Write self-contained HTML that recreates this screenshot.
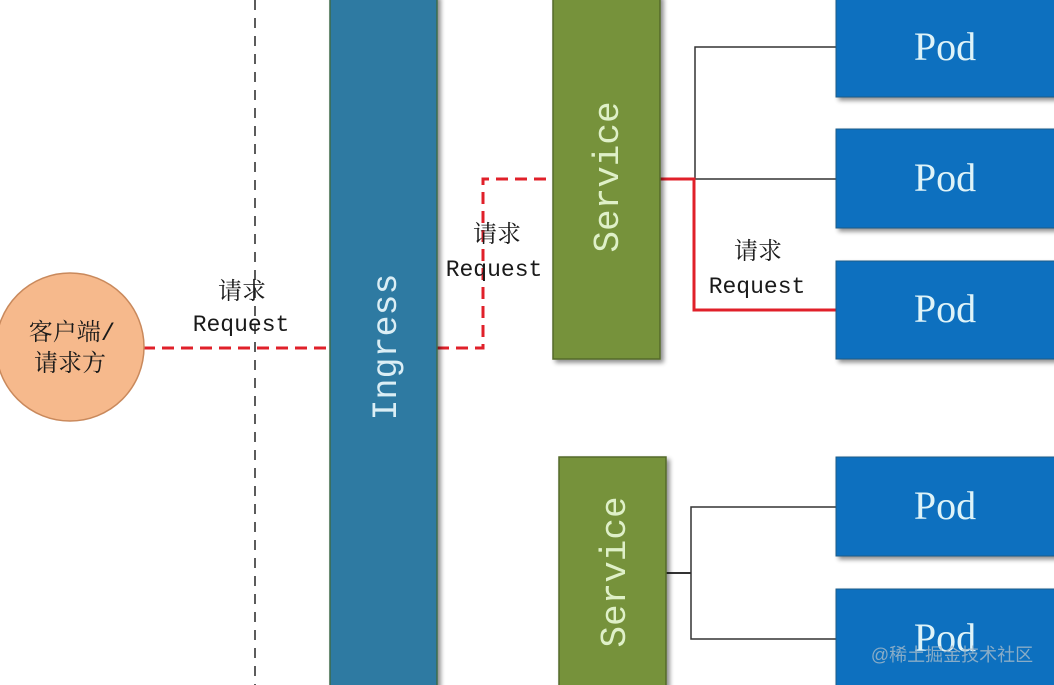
<!DOCTYPE html>
<html><head><meta charset="utf-8">
<style>
html,body{margin:0;padding:0;background:#fff;}
svg{display:block;}
.mono{font-family:"Liberation Mono","Noto Sans CJK SC",monospace;}
.lbl{font-family:"Liberation Mono","Noto Serif CJK SC","Noto Sans CJK SC",monospace;fill:#1a1a1a;}
</style></head>
<body>
<svg width="1054" height="685" viewBox="0 0 1054 685" xmlns="http://www.w3.org/2000/svg">
<defs>
<filter id="sh" x="-10%" y="-10%" width="130%" height="130%">
<feGaussianBlur in="SourceAlpha" stdDeviation="2.5"/>
<feOffset dx="3" dy="3" result="b"/>
<feComponentTransfer><feFuncA type="linear" slope="0.45"/></feComponentTransfer>
<feMerge><feMergeNode/><feMergeNode in="SourceGraphic"/></feMerge>
</filter>
</defs>
<rect width="1054" height="685" fill="#fff"/>

<!-- vertical black dashed line -->
<line x1="255" y1="0" x2="255" y2="685" stroke="#333" stroke-width="1.6" stroke-dasharray="10,8"/>

<!-- black connectors -->
<polyline points="836,47 695,47 695,179 836,179" fill="none" stroke="#333" stroke-width="1.5"/>
<polyline points="666,573 691,573" fill="none" stroke="#333" stroke-width="2"/>
<polyline points="836,507 691,507 691,639 836,639" fill="none" stroke="#333" stroke-width="1.5"/>

<!-- red connectors -->
<line x1="143" y1="348" x2="330" y2="348" stroke="#e0202a" stroke-width="3" stroke-dasharray="12,7"/>
<polyline points="437,348 483,348 483,179 553,179" fill="none" stroke="#e0202a" stroke-width="3" stroke-dasharray="12,7"/>
<polyline points="660,179 694,179 694,310 836,310" fill="none" stroke="#e0202a" stroke-width="3"/>

<!-- circle -->
<circle cx="70" cy="347" r="74" fill="#f6b98c" stroke="#c9895c" stroke-width="1.5"/>
<text x="72" y="340" text-anchor="middle" font-size="24" class="lbl">客户端/</text>
<text x="70" y="371" text-anchor="middle" font-size="24" class="lbl">请求方</text>

<!-- Ingress -->
<g filter="url(#sh)">
<rect x="330" y="-5" width="107" height="700" fill="#2e7aa2" stroke="#3d6a4a" stroke-width="1.5"/>
</g>
<text transform="translate(396,347) rotate(-90)" text-anchor="middle" font-size="35" class="mono" fill="#dbeef5">Ingress</text>

<!-- Services -->
<g filter="url(#sh)">
<rect x="553" y="-5" width="107" height="364" fill="#76923b" stroke="#556b2a" stroke-width="1.5"/>
<rect x="559" y="457" width="107" height="240" fill="#76923b" stroke="#556b2a" stroke-width="1.5"/>
</g>
<text transform="translate(618,177) rotate(-90)" text-anchor="middle" font-size="36" class="mono" fill="#dff0c8">Service</text>
<text transform="translate(625,572) rotate(-90)" text-anchor="middle" font-size="36" class="mono" fill="#dff0c8">Service</text>

<!-- Pods -->
<g filter="url(#sh)">
<rect x="836" y="-5" width="222" height="102" fill="#0b6fbf" stroke="#1f5c8a" stroke-width="1"/>
<rect x="836" y="129" width="222" height="99" fill="#0b6fbf" stroke="#1f5c8a" stroke-width="1"/>
<rect x="836" y="261" width="222" height="98" fill="#0b6fbf" stroke="#1f5c8a" stroke-width="1"/>
<rect x="836" y="457" width="222" height="99" fill="#0b6fbf" stroke="#1f5c8a" stroke-width="1"/>
<rect x="836" y="589" width="222" height="110" fill="#0b6fbf" stroke="#1f5c8a" stroke-width="1"/>
</g>
<g font-family="Liberation Serif, serif" font-size="40" fill="#def3f8" text-anchor="middle">
<text x="945" y="60">Pod</text>
<text x="945" y="191">Pod</text>
<text x="945" y="322">Pod</text>
<text x="945" y="519">Pod</text>
<text x="945" y="651">Pod</text>
</g>

<!-- labels -->
<text x="242" y="299" text-anchor="middle" font-size="24" class="lbl">请求</text>
<text x="241" y="331" text-anchor="middle" font-size="23" class="lbl">Request</text>
<text x="497" y="242" text-anchor="middle" font-size="24" class="lbl">请求</text>
<text x="494" y="276" text-anchor="middle" font-size="23" class="lbl">Request</text>
<text x="758" y="259" text-anchor="middle" font-size="24" class="lbl">请求</text>
<text x="757" y="293" text-anchor="middle" font-size="23" class="lbl">Request</text>

<!-- watermark -->
<text x="952" y="661" text-anchor="middle" font-size="18" font-family="Liberation Sans, Noto Sans CJK SC, sans-serif" fill="#9fb6c8" fill-opacity="0.85">@稀土掘金技术社区</text>
</svg>
</body></html>
